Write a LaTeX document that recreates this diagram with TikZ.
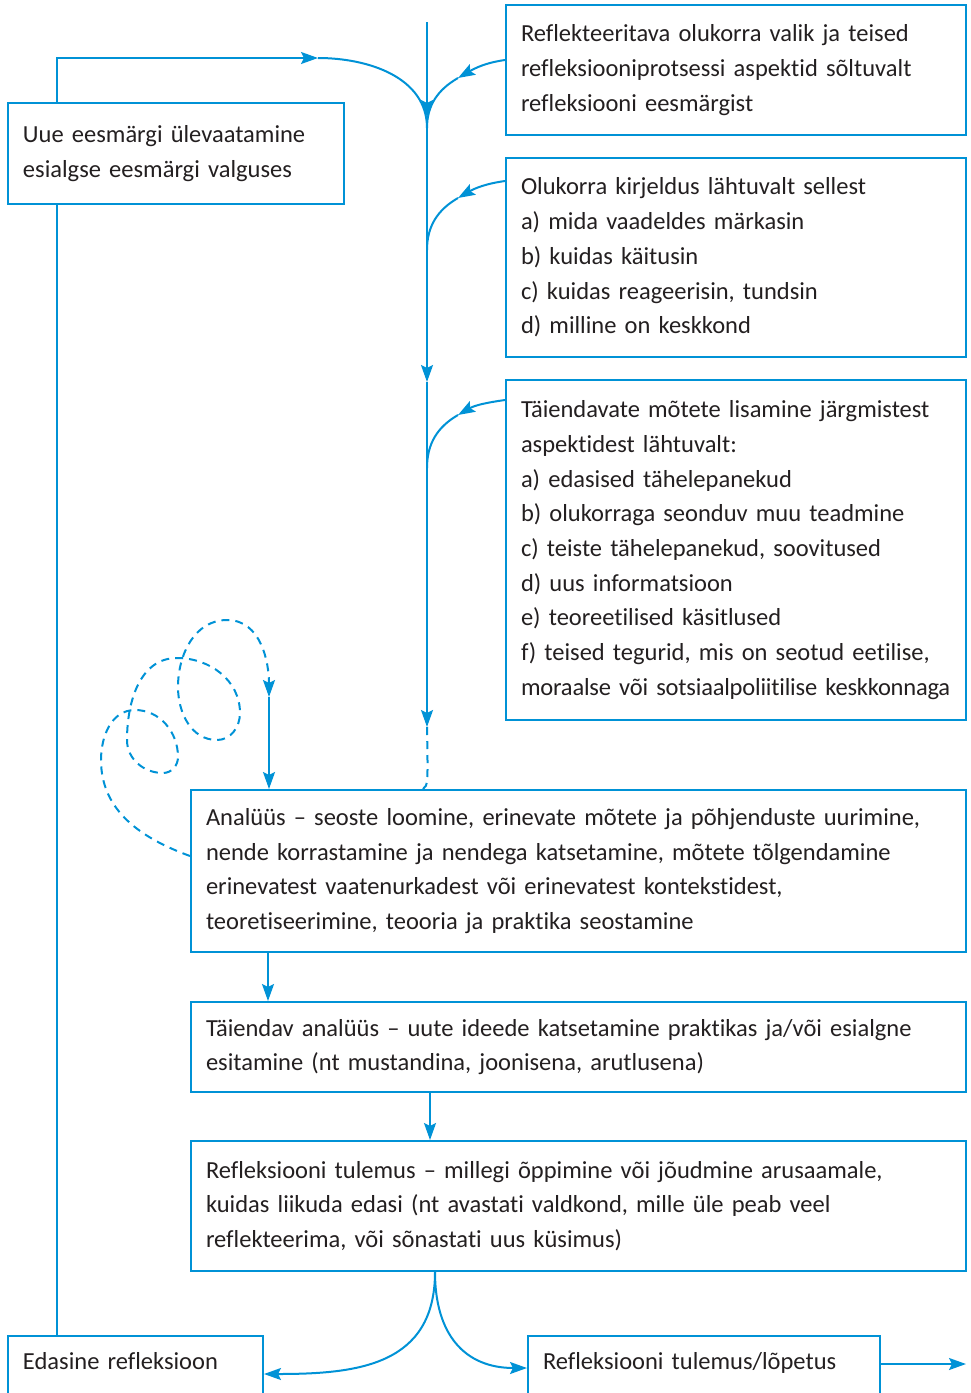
\documentclass[tikz,border=0pt]{standalone}
\usepackage{fontspec}
\setmainfont{Carlito}[Ligatures=NoCommon]
\usetikzlibrary{arrows.meta,positioning}
\definecolor{FlowBlue}{RGB}{0,146,214}
\definecolor{TextGray}{RGB}{35,31,32}

\begin{document}
\begin{tikzpicture}[x=1pt, y=1pt, node distance=21pt,
    >={Stealth[length=17pt,width=12pt,inset=3pt]},
    box/.style={draw=FlowBlue, line width=2pt, text=TextGray, align=left,
      inner xsep=15pt, inner ysep=0pt, anchor=north west,
      font=\fontsize{24.5}{34.7}\selectfont},
    link/.style={FlowBlue, line width=2pt},
    dashline/.style={dash pattern=on 8pt off 6pt}]
    \useasboundingbox (0,0) rectangle (970,-1393);

    % right column
    \node [box, text width=430pt, minimum height=130pt] (selbox) at (505,-4) {Reflekteeritava olukorra valik ja teised\\ refleksiooniprotsessi aspektid sõltuvalt\\ refleksiooni eesmärgist};
    \node [box, text width=430pt, minimum height=199pt, below=of selbox] (descbox) {Olukorra kirjeldus lähtuvalt sellest\\ a) mida vaadeldes märkasin\\ b) kuidas käitusin\\ c) kuidas reageerisin, tundsin\\ d) milline on keskkond};
    \node [box, text width=430pt, minimum height=340pt, below=of descbox] (addbox) {Täiendavate mõtete lisamine järgmistest\\ aspektidest lähtuvalt:\\ a) edasised tähelepanekud\\ b) olukorraga seonduv muu teadmine\\ c) teiste tähelepanekud, soovitused\\ d) uus informatsioon\\ e) teoreetilised käsitlused\\ f) teised tegurid, mis on seotud eetilise,\\ \mbox{\addfontfeature{LetterSpace=-0.8}moraalse või sotsiaalpoliitilise keskkonnaga}};
    \node [box, text width=306pt, minimum height=101pt] (goalbox) at (7,-102) {Uue eesmärgi ülevaatamine\\ esialgse eesmärgi valguses};

    % lower column
    \node [box, text width=745pt, minimum height=162pt] (anbox) at (190,-789) {Analüüs – seoste loomine, erinevate mõtete ja põhjenduste uurimine,\\ nende korrastamine ja nendega katsetamine, mõtete tõlgendamine\\ erinevatest vaatenurkadest või erinevatest kontekstidest,\\ teoretiseerimine, teooria ja praktika seostamine};
    \node [box, text width=745pt, minimum height=90pt, below=48pt of anbox] (extbox) {Täiendav analüüs – uute ideede katsetamine praktikas ja/või esialgne\\ esitamine (nt mustandina, joonisena, arutlusena)};
    \node [box, text width=745pt, minimum height=130pt, below=47pt of extbox] (resbox) {Refleksiooni tulemus – millegi õppimine või jõudmine arusaamale,\\ kuidas liikuda edasi (nt avastati valdkond, mille üle peab veel\\ reflekteerima, või sõnastati uus küsimus)};
    \node [box, text width=225pt, minimum height=64pt, text depth=14pt] (nextbox) at (7,-1335) {Edasine refleksioon};
    \node [box, text width=322pt, minimum height=64pt, text depth=14pt] (endbox) at (527,-1335) {Refleksiooni tulemus/lõpetus};

    % main line
    \coordinate (mtop) at (427,-22);
    \coordinate (tip1) at (427,-117);
    \coordinate (tip2) at (427,-382);
    \coordinate (tip3) at (427,-727);
    \coordinate (join1) at (427,-128);
    \coordinate (join2) at (427,-250);
    \coordinate (join3) at (427,-468);
    \coordinate (hook1) at (458,-78);
    \coordinate (hook2) at (458,-198);
    \coordinate (hook3) at (458,-415);
    \coordinate (loopin) at (318,-58);
    \coordinate (loopend) at (269,-697);
    \coordinate (exit) at (966,-1363);

    \draw [link, ->] (mtop) -- (tip1);
    \draw [link, ->] (tip1) -- (tip2);
    \draw [link, ->] (tip2) -- (tip3);
    \draw [link, dashline] (tip3) .. controls (428,-785) .. ([xshift=233pt]anbox.north west);

    \draw [link, ->] ([yshift=-56pt]selbox.north west) to[out=188, in=30] (hook1);
    \draw [link] (hook1) to[out=210, in=90] (join1);
    \draw [link, ->] ([yshift=-24pt]descbox.north west) to[out=188, in=30] (hook2);
    \draw [link] (hook2) to[out=210, in=90] (join2);
    \draw [link, ->] ([yshift=-21pt]addbox.north west) to[out=188, in=30] (hook3);
    \draw [link] (hook3) to[out=210, in=90] (join3);

    % back loop
    \draw [link, ->] ([xshift=50pt]goalbox.north west) |- (loopin);
    \draw [link] (loopin) to[out=0, in=90] (join1);
    \draw [link] ([xshift=50pt]nextbox.north west) -- ([xshift=50pt]goalbox.south west);

    % dashed spiral
    \draw [link, dashline, ->] ([yshift=15pt]anbox.west)
        to[out=160, in=270] (101,-760) to[out=90, in=180] (135,-710)
        to[out=0, in=90] (178,-757) to[out=270, in=0] (163,-773)
        to[out=180, in=270] (127,-740) to[out=90, in=180] (177,-658)
        to[out=0, in=90] (240,-713) to[out=270, in=0] (217,-740)
        to[out=180, in=270] (178,-687) to[out=90, in=180] (227,-620)
        to[out=0, in=90] (loopend);
    \draw [link, ->] (loopend) -- (anbox.north -| loopend);

    % lower arrows
    \draw [link, ->] ([xshift=78pt]anbox.south west) -- ([xshift=78pt]extbox.north west);
    \draw [link, ->] ([xshift=240pt]extbox.south west) -- ([xshift=240pt]resbox.north west);
    \draw [link, ->] ([xshift=245pt]resbox.south west) to[out=-90, in=0, looseness=1.2] ([yshift=-6pt]nextbox.east);
    \draw [link, ->] ([xshift=245pt]resbox.south west) to[out=-90, in=180, looseness=1.2] (endbox.west);
    \draw [link, ->] ([yshift=4pt]endbox.east) -- ([yshift=4pt]endbox.east -| exit);
\end{tikzpicture}
\end{document}
